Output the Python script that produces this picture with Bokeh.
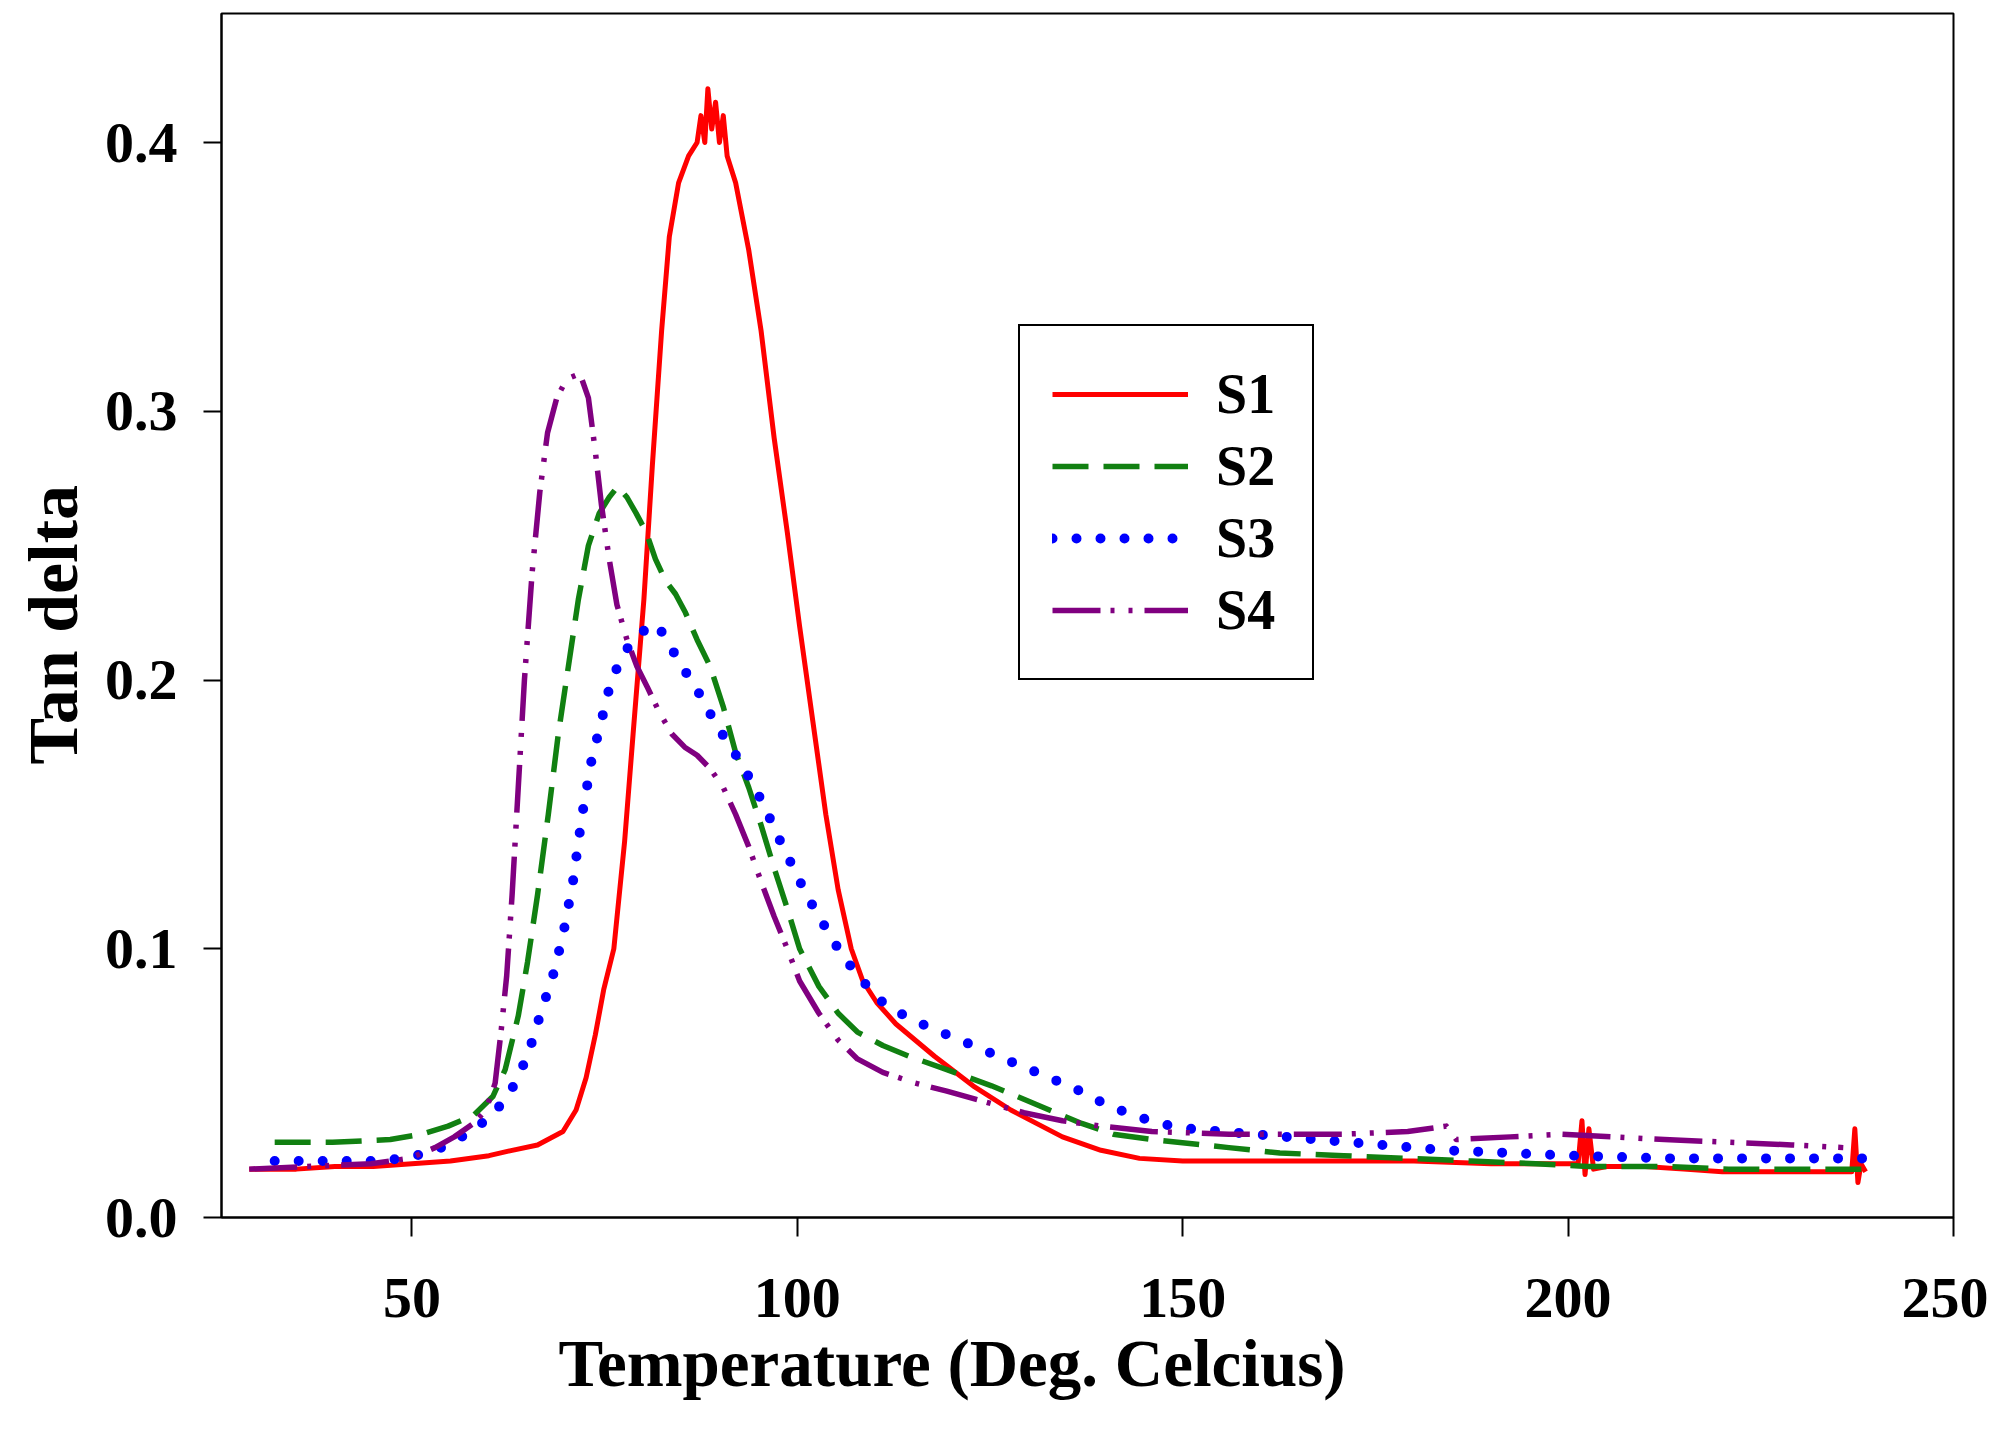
from bokeh.plotting import figure
from bokeh.models import Legend, LegendItem, FixedTicker, Range1d, PrintfTickFormatter, Title
from bokeh.embed import file_html
from bokeh.resources import INLINE

# ---- data ----
s1_x = [28.9, 35, 40, 45, 50, 55, 60, 63, 66.3, 69.6, 71.3, 72.6, 73.8, 74.9, 76.2, 77.6, 78.7,
        80.1, 81.2, 82.4, 83.4, 84.6, 85.9, 87, 87.5, 88, 88.4, 88.9, 89.4, 89.9, 90.4, 90.9, 92,
        93.7, 95.3, 97, 98.7, 100.3, 102, 103.7, 105.3, 107, 108.5, 110.3, 112.8, 117.8, 122.8,
        127.7, 134.4, 139.4, 144.4, 150, 160, 170, 180, 190, 198, 201.3, 201.8, 202.2, 202.7,
        203.3, 205, 210, 215, 220, 225, 230, 235, 236.8, 237.2, 237.6, 238.0, 238.6]
s1_y = [0.018, 0.018, 0.019, 0.019, 0.020, 0.021, 0.023, 0.025, 0.027, 0.032, 0.040, 0.052,
        0.068, 0.085, 0.100, 0.140, 0.180, 0.230, 0.280, 0.330, 0.365, 0.385, 0.395, 0.400,
        0.410, 0.400, 0.420, 0.405, 0.415, 0.400, 0.410, 0.395, 0.385, 0.360, 0.330, 0.290,
        0.255, 0.220, 0.185, 0.150, 0.122, 0.100, 0.088, 0.080, 0.072, 0.060, 0.049, 0.040,
        0.030, 0.025, 0.022, 0.021, 0.021, 0.021, 0.021, 0.020, 0.020, 0.020, 0.036, 0.016,
        0.033, 0.018, 0.019, 0.019, 0.018, 0.017, 0.017, 0.017, 0.017, 0.017, 0.033, 0.013,
        0.020, 0.017]

s2_x = [32.2, 39.7, 47.2, 51.3, 54.7, 58, 60.5, 62.1, 63.8, 65, 66.3, 67.7, 69, 70.3, 71.6,
        72.9, 74.3, 75.6, 76.7, 77.9, 79.1, 80.4, 81.6, 82.9, 84.2, 85.5, 87, 88.7, 90.4, 92,
        93.7, 95.3, 97, 98.7, 100.3, 102.8, 105.3, 107.8, 111.1, 114.5, 119.4, 125.2, 129.4,
        132.7, 136.9, 141, 146, 156, 162.6, 170.9, 179.2, 187.5, 195.8, 202.5, 212.5, 220.8,
        229, 238.7]
s2_y = [0.028, 0.028, 0.029, 0.031, 0.034, 0.038, 0.045, 0.055, 0.075, 0.095, 0.120, 0.150,
        0.180, 0.205, 0.230, 0.250, 0.262, 0.268, 0.272, 0.268, 0.262, 0.255, 0.245, 0.237,
        0.232, 0.225, 0.215, 0.205, 0.190, 0.173, 0.160, 0.146, 0.130, 0.115, 0.100, 0.086,
        0.076, 0.069, 0.064, 0.060, 0.055, 0.049, 0.044, 0.040, 0.035, 0.031, 0.029, 0.026,
        0.024, 0.023, 0.022, 0.021, 0.020, 0.019, 0.019, 0.018, 0.018, 0.018]

s3_x = [32.2, 39.7, 46.3, 50.5, 53.8, 57.1, 60.5, 63, 65, 66.6, 68.3, 69.6, 70.9, 72.1, 73.3,
        74.6, 75.7, 77.1, 78.7, 80.4, 81.6, 82.9, 84.6, 86.2, 87.9, 89.5, 91.2, 92.9, 94.5,
        96.2, 97.8, 99.5, 101.2, 102.8, 105.3, 107.8, 111.1, 114.5, 118.6, 122.8, 127.7,
        131.9, 136, 139.4, 142.7, 146.8, 151, 159.3, 167.6, 175.9, 184.2, 192.5, 200.8,
        212.5, 225.7, 239]
s3_y = [0.021, 0.021, 0.021, 0.023, 0.026, 0.031, 0.038, 0.048, 0.060, 0.075, 0.090, 0.105,
        0.125, 0.150, 0.170, 0.185, 0.198, 0.208, 0.215, 0.219, 0.221, 0.216, 0.207, 0.200,
        0.192, 0.183, 0.176, 0.168, 0.160, 0.150, 0.140, 0.130, 0.120, 0.112, 0.100, 0.090,
        0.080, 0.074, 0.069, 0.064, 0.058, 0.053, 0.048, 0.043, 0.039, 0.035, 0.033, 0.031,
        0.029, 0.027, 0.025, 0.024, 0.023, 0.022, 0.022, 0.022]

s4_x = [28.9, 36.4, 44.7, 49.7, 53, 55.5, 58, 59.6, 60.8, 61.6, 62.3, 63, 63.8, 64.6, 65.6,
        66.6, 67.6, 68.8, 70.1, 71.8, 72.9, 73.8, 74.6, 75.6, 76.6, 77.9, 79.2, 80.6, 82.1,
        83.7, 85.4, 87, 88.7, 90.4, 92, 93.7, 95.3, 97, 98.7, 100.3, 102.8, 105.3, 107.8,
        111.1, 115.3, 119.4, 124.4, 129.4, 134.4, 139.4, 146, 156, 170.9, 179.2, 184.2, 185.5,
        192.5, 199.2, 205.8, 212.5, 220.8, 229, 235.7]
s4_y = [0.018, 0.019, 0.020, 0.022, 0.026, 0.030, 0.035, 0.040, 0.050, 0.070, 0.090, 0.120,
        0.160, 0.200, 0.240, 0.270, 0.292, 0.305, 0.312, 0.314, 0.305, 0.285, 0.265, 0.245,
        0.228, 0.215, 0.205, 0.197, 0.188, 0.180, 0.175, 0.172, 0.167, 0.160, 0.150, 0.138,
        0.125, 0.112, 0.100, 0.088, 0.076, 0.066, 0.059, 0.054, 0.050, 0.047, 0.043, 0.039,
        0.036, 0.034, 0.032, 0.031, 0.031, 0.032, 0.034, 0.029, 0.030, 0.031, 0.030, 0.029,
        0.028, 0.027, 0.026]

x_ticks = [50, 100, 150, 200, 250]
y_ticks = [0.0, 0.1, 0.2, 0.3, 0.4]
series_names = ["S1", "S2", "S3", "S4"]
x_title = "Temperature (Deg. Celcius)"
y_title = "Tan delta"

FONT = "Liberation Serif"

p = figure(width=1988, height=1427, output_backend="svg", toolbar_location=None,
           x_range=Range1d(25.3, 250), y_range=Range1d(0, 0.448),
           min_border_left=221, min_border_right=35, min_border_top=13,
           min_border_bottom=210)

p.xgrid.visible = False
p.ygrid.visible = False
p.outline_line_color = "black"
p.outline_line_width = 2
p.background_fill_color = "white"
p.border_fill_color = "white"

for ax in (p.xaxis[0], p.yaxis[0]):
    ax.axis_line_width = 2
    ax.axis_line_color = "black"
    ax.major_tick_line_width = 2
    ax.major_tick_in = 0
    ax.minor_tick_line_color = None
    ax.major_label_text_font = FONT
    ax.major_label_text_font_style = "bold"
    ax.major_label_text_font_size = "58px"
    ax.major_label_text_color = "black"

p.xaxis.ticker = FixedTicker(ticks=x_ticks)
p.yaxis.ticker = FixedTicker(ticks=y_ticks)
p.yaxis.formatter = PrintfTickFormatter(format="%.1f")
p.xaxis.major_tick_out = 19
p.yaxis.major_tick_out = 18
p.xaxis.major_label_standoff = 42
p.yaxis.major_label_standoff = 26

# axis titles are placed off-centre in the reference, so they are Titles with offsets
xt = Title(text=x_title, align="left", offset=337, standoff=8,
           text_font=FONT, text_font_style="bold", text_font_size="67px",
           text_color="black")
p.add_layout(xt, "below")
yt = Title(text=y_title, align="left", offset=453, standoff=19,
           text_font=FONT, text_font_style="bold", text_font_size="70px",
           text_color="black")
p.add_layout(yt, "left")

r1 = p.line(s1_x, s1_y, line_color="#ff0000", line_width=5, line_join="round")
r2 = p.line(s2_x, s2_y, line_color="#118011", line_width=5.5, line_dash="36 15",
            line_join="round")
r3 = p.line(s3_x, s3_y, line_color="#0000ff", line_width=10, line_dash="0 24",
            line_cap="round", line_join="round")
r4 = p.line(s4_x, s4_y, line_color="#800080", line_width=5.5, line_dash="48 10 4 14 4 12",
            line_join="round")

items = [LegendItem(label=n, renderers=[r]) for n, r in zip(series_names, [r1, r2, r3, r4])]
legend = Legend(items=items, location=(797, 537),
                glyph_width=136, glyph_height=72, label_standoff=28,
                label_width=64, label_height=72, padding=32, spacing=0, margin=0,
                border_line_color="black", border_line_width=2, border_line_alpha=1.0,
                background_fill_color="white", background_fill_alpha=1.0,
                label_text_font=FONT, label_text_font_style="bold",
                label_text_font_size="56px", label_text_color="black")
p.add_layout(legend)

open("out.html", "w").write(file_html(p, INLINE))
